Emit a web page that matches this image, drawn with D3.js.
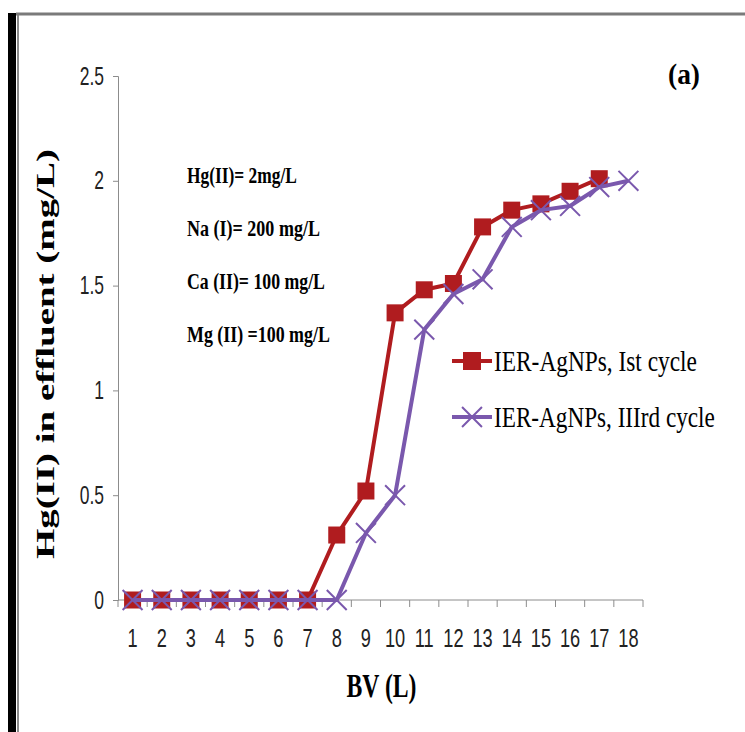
<!DOCTYPE html>
<html>
<head>
<meta charset="utf-8">
<script src="https://cdn.jsdelivr.net/npm/d3@7"></script>
<style>
  body { margin: 0; background: #fff; }
  svg { display: block; }
</style>
</head>
<body>
<div id="chart"></div>
<script>

// BV (L) categories
const bv = [1, 2, 3, 4, 5, 6, 7, 8, 9, 10, 11, 12, 13, 14, 15, 16, 17, 18];

// Hg(II) in effluent (mg/L)
const firstCycle = [0, 0, 0, 0, 0, 0, 0, 0.31, 0.52, 1.37, 1.48, 1.51, 1.78, 1.86, 1.89, 1.95, 2.01];
const thirdCycle = [0, 0, 0, 0, 0, 0, 0, 0, 0.32, 0.50, 1.29, 1.46, 1.53, 1.78, 1.86, 1.88, 1.97, 2.0];

const yTicks = [0, 0.5, 1, 1.5, 2, 2.5];
const yTickLabels = ["0", "0.5", "1", "1.5", "2", "2.5"];

const seriesNames = ["IER-AgNPs, Ist cycle", "IER-AgNPs, IIIrd cycle"];
const notes = ["Hg(II)= 2mg/L", "Na (I)= 200 mg/L", "Ca (II)= 100 mg/L", "Mg (II) =100 mg/L"];

const config = {
    "width": 745,
    "height": 732,
    "left": 118,
    "right": 643,
    "top": 76,
    "bottom": 600,
    "red": "#b01c1f",
    "purple": "#7a58ad",
    "axis": "#8c8c8c",
    "sans": "'Liberation Sans', Arial, sans-serif",
    "serif": "'Liberation Serif', 'Times New Roman', serif"
};

// squeeze a text horizontally so it spans the given width (the picture is narrow-set)
function fitText(sel, x, y, width, anchor) {
    sel.each(function() {
        let t = d3.select(this);
        t.attr("x", 0).attr("y", 0).attr("text-anchor", "start");
        let w = this.getComputedTextLength();
        let k = width / w;
        let left = anchor === "middle" ? x - width / 2 : (anchor === "end" ? x - width : x);
        t.attr("transform", "translate(" + left + "," + y + ")scale(" + k + ",1)");
    });
}

let svg = d3.select("#chart").append("svg")
    .attr("width", config.width)
    .attr("height", config.height);

svg.append("rect")
    .attr("width", config.width)
    .attr("height", config.height)
    .attr("fill", "#fff");

// frame of the picture
svg.append("rect")
    .attr("x", 8).attr("y", 13)
    .attr("width", 8).attr("height", config.height - 13)
    .attr("fill", "#000");
svg.append("line")
    .attr("x1", 18).attr("x2", 18)
    .attr("y1", 13).attr("y2", config.height)
    .attr("stroke", "#8a8a8a").attr("stroke-width", 2);
svg.append("line")
    .attr("x1", 16).attr("x2", config.width)
    .attr("y1", 14).attr("y2", 14)
    .attr("stroke", "#7a7a7a").attr("stroke-width", 3);

let x = d3.scaleBand()
    .domain(bv)
    .range([config.left, config.right]);

let y = d3.scaleLinear()
    .domain([0, 2.5])
    .range([config.bottom, config.top]);

let cx = d => x(d) + x.bandwidth() / 2;

// y axis
let yAxis = svg.append("g")
    .attr("transform", "translate(" + config.left + ",0)")
    .call(d3.axisLeft(y)
        .tickValues(yTicks)
        .tickFormat((d, i) => yTickLabels[i])
        .tickSize(5)
        .tickPadding(9));
yAxis.select(".domain").attr("stroke", config.axis);
yAxis.selectAll(".tick line").attr("stroke", config.axis);
yAxis.selectAll("text")
    .attr("font-family", config.sans)
    .attr("font-size", 25)
    .attr("fill", "#222")
    .attr("transform", "translate(-14,0)scale(0.7,1)")
    .attr("x", 0);

// x axis (labels centred, ticks between categories)
let xAxis = svg.append("g")
    .attr("transform", "translate(0," + config.bottom + ")")
    .call(d3.axisBottom(x).tickSize(0).tickPadding(0));
xAxis.select(".domain").remove();
xAxis.selectAll("text")
    .attr("font-family", config.sans)
    .attr("font-size", 26)
    .attr("fill", "#222")
    .attr("dy", null)
    .attr("y", 0)
    .attr("transform", "translate(0,47)scale(0.7,1)");

svg.append("line")
    .attr("x1", config.left).attr("x2", config.right)
    .attr("y1", y(0)).attr("y2", y(0))
    .attr("stroke", config.axis);

svg.append("g").selectAll("line")
    .data(bv.concat([bv.length + 1]))
    .enter().append("line")
    .attr("x1", d => x.range()[0] + (d - 1) * x.step())
    .attr("x2", d => x.range()[0] + (d - 1) * x.step())
    .attr("y1", y(0))
    .attr("y2", y(0) + 7)
    .attr("stroke", config.axis);

// axis titles
svg.append("text")
    .attr("font-family", config.serif)
    .attr("font-weight", "bold")
    .attr("font-size", 33)
    .text("BV (L)")
    .call(fitText, (config.left + config.right) / 2 + 1, 697, 70, "middle");

svg.append("g")
    .attr("transform", "translate(54,354)rotate(-90)")
    .append("text")
    .attr("font-family", config.serif)
    .attr("font-weight", "bold")
    .attr("font-size", 25)
    .text("Hg(II) in effluent (mg/L)")
    .call(fitText, 0, 0, 410, "middle");

svg.append("text")
    .attr("font-family", config.serif)
    .attr("font-weight", "bold")
    .attr("font-size", 29)
    .text("(a)")
    .call(fitText, 700, 84, 32, "end");

// notes on the feed composition
let noteWidths = [110, 133, 138, 143];
svg.append("g").selectAll("text")
    .data(notes)
    .enter().append("text")
    .attr("font-family", config.serif)
    .attr("font-weight", "bold")
    .attr("font-size", 24)
    .text(d => d)
    .each(function(d, i) {
        d3.select(this).call(fitText, 187, 183 + i * 53, noteWidths[i], "start");
    });

// series
let line = d3.line()
    .x((d, i) => cx(bv[i]))
    .y(d => y(d));

svg.append("path")
    .datum(firstCycle)
    .attr("fill", "none")
    .attr("stroke", config.red)
    .attr("stroke-width", 4)
    .attr("stroke-linejoin", "round")
    .attr("d", line);

svg.append("g").selectAll("rect")
    .data(firstCycle)
    .enter().append("rect")
    .attr("x", (d, i) => cx(bv[i]) - 8.5)
    .attr("y", d => y(d) - 8.5)
    .attr("width", 17)
    .attr("height", 17)
    .attr("fill", config.red);

svg.append("path")
    .datum(thirdCycle)
    .attr("fill", "none")
    .attr("stroke", config.purple)
    .attr("stroke-width", 4)
    .attr("stroke-linejoin", "round")
    .attr("d", line);

let cross = d3.symbol().type(d3.symbolTimes).size(260);
svg.append("g").selectAll("path")
    .data(thirdCycle)
    .enter().append("path")
    .attr("transform", (d, i) => "translate(" + cx(bv[i]) + "," + y(d) + ")")
    .attr("d", cross)
    .attr("fill", "none")
    .attr("stroke", config.purple)
    .attr("stroke-width", 2);

// legend
let legend = svg.append("g").selectAll("g")
    .data(seriesNames)
    .enter().append("g")
    .attr("transform", (d, i) => "translate(452," + (361 + i * 56) + ")");

legend.append("line")
    .attr("x1", 0).attr("x2", 40)
    .attr("stroke", (d, i) => i === 0 ? config.red : config.purple)
    .attr("stroke-width", 4);

legend.filter((d, i) => i === 0).append("rect")
    .attr("x", 11).attr("y", -9)
    .attr("width", 18).attr("height", 18)
    .attr("fill", config.red);

legend.filter((d, i) => i === 1).append("path")
    .attr("transform", "translate(20,0)")
    .attr("d", cross)
    .attr("fill", "none")
    .attr("stroke", config.purple)
    .attr("stroke-width", 2);

legend.append("text")
    .attr("font-family", config.serif)
    .attr("font-size", 30)
    .text(d => d)
    .each(function(d, i) {
        d3.select(this).call(fitText, 42, 10, i === 0 ? 203 : 221, "start");
    });

</script>
</body>
</html>
